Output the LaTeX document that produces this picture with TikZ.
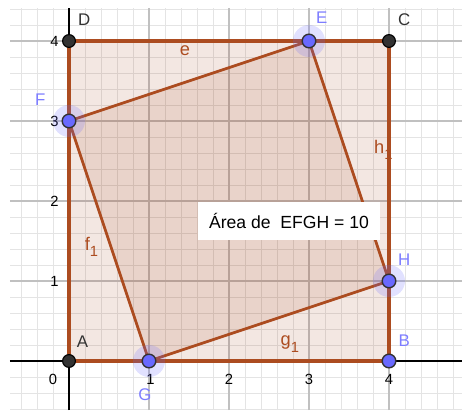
\documentclass[tikz,border=0pt]{standalone}
\usepackage{fontspec}
\setmainfont{Liberation Sans}
\definecolor{ggbrown}{RGB}{172,76,32}
\definecolor{ggfill}{RGB}{160,60,20}
\definecolor{ggblue}{RGB}{105,105,255}
\definecolor{ggbluelabel}{RGB}{125,125,255}
\definecolor{ggdark}{RGB}{50,50,50}
\definecolor{ggminor}{RGB}{228,228,228}
\definecolor{ggmajor}{RGB}{192,192,192}
\newcommand{\ggsub}[1]{\raisebox{-0.65ex}{\fontsize{10.5}{12}\selectfont #1}}
\tikzset{
  minorgrid/.style={draw=ggminor, line width=0.6pt},
  majorgrid/.style={draw=ggmajor, line width=0.8pt},
  axis/.style={draw=black, line width=0.9pt},
  sqside/.style={draw=ggbrown, line width=2.4pt},
  inside/.style={draw=ggbrown, line width=2pt, line cap=round},
  polyfill/.style={fill=ggfill, fill opacity=0.12},
  freept/.style={circle, fill=ggblue, draw=ggdark, line width=1pt, minimum size=0.34cm, inner sep=0pt},
  fixpt/.style={circle, fill=ggdark, draw=black, line width=0.8pt, minimum size=0.32cm, inner sep=0pt},
  halo/.style={fill=ggblue, fill opacity=0.2},
  bluelab/.style={text=ggbluelabel, font=\fontsize{12}{14}\selectfont},
  darklab/.style={text=ggdark, font=\fontsize{12}{14}\selectfont},
  seglab/.style={text=ggbrown, font=\fontsize{13}{14}\selectfont},
  ticklab/.style={text=black, font=\fontsize{10.5}{12}\selectfont},
}
\begin{document}
\begin{tikzpicture}[x=2cm,y=2cm]
\useasboundingbox (-0.8625,-0.6125) rectangle (4.9125,4.5125);
% grid
\draw[minorgrid] (-0.7375,-0.6125) grid[step=0.2] (4.9125,4.4125);
\draw[majorgrid] (-0.7375,-0.6125) grid[step=1] (4.9125,4.4125);
% axes
\draw[axis] (-0.7375,0) -- (4.9125,0);
\draw[axis] (0,-0.6125) -- (0,4.4125);
% tick labels
\node[ticklab] (x0) at (-0.2,-0.225) {0};
\node[ticklab] (x1) at (1.02,-0.235) {1};
\node[ticklab] (x2) at (2,-0.235) {2};
\node[ticklab] (x3) at (3,-0.235) {3};
\node[ticklab] (x4) at (4,-0.235) {4};
\node[ticklab] (y1) at (-0.18,1) {1};
\node[ticklab] (y2) at (-0.18,2) {2};
\node[ticklab] (y3) at (-0.18,3) {3};
\node[ticklab] (y4) at (-0.18,4) {4};
% points
\coordinate (A) at (0,0);
\coordinate (B) at (4,0);
\coordinate (C) at (4,4);
\coordinate (D) at (0,4);
\coordinate (E) at (3,4);
\coordinate (F) at (0,3);
\coordinate (G) at (1,0);
\coordinate (H) at (4,1);
% fills
\fill[polyfill] (A) -- (B) -- (C) -- (D) -- cycle;
\fill[polyfill] (E) -- (F) -- (G) -- (H) -- cycle;
% square sides
\draw[sqside] (A) -- (B);
\draw[sqside] (B) -- (C);
\draw[sqside] (C) -- (D);
\draw[sqside] (D) -- (A);
% inner sides
\draw[inside] (E) -- (F);
\draw[inside] (F) -- (G);
\draw[inside] (G) -- (H);
\draw[inside] (H) -- (E);
% halos
\foreach \p in {E,F,G,H} \fill[halo] (\p) circle (0.2);
% point markers
\node[fixpt] (pA) at (A) {};
\node[fixpt] (pC) at (C) {};
\node[fixpt] (pD) at (D) {};
\node[freept] (pB) at (B) {};
\node[freept] (pE) at (E) {};
\node[freept] (pF) at (F) {};
\node[freept] (pG) at (G) {};
\node[freept] (pH) at (H) {};
% point labels
\node[darklab] (lA) at (0.17,0.24) {A};
\node[darklab] (lC) at (4.19,4.27) {C};
\node[darklab] (lD) at (0.19,4.27) {D};
\node[bluelab] (lB) at (4.19,0.26) {B};
\node[bluelab] (lE) at (3.16,4.29) {E};
\node[bluelab] (lF) at (-0.36,3.27) {F};
\node[bluelab] (lG) at (0.95,-0.42) {G};
\node[bluelab] (lH) at (4.19,1.27) {H};
% segment labels
\node[seglab] (le) at (1.45,3.88) {e};
\node[seglab] (lf) at (0.28,1.43) {f\ggsub{1}};
\node[seglab] (lg) at (2.76,0.21) {g\ggsub{1}};
\node[seglab] (lh) at (3.93,2.64) {h\ggsub{1}};
% area text box
\node[fill=white, inner sep=0pt, minimum width=182*0.025cm, minimum height=38*0.025cm,
      font=\fontsize{12.5}{14}\selectfont] (area) at (2.75,1.75) {Área de\ \ EFGH = 10};
\end{tikzpicture}
\end{document}
